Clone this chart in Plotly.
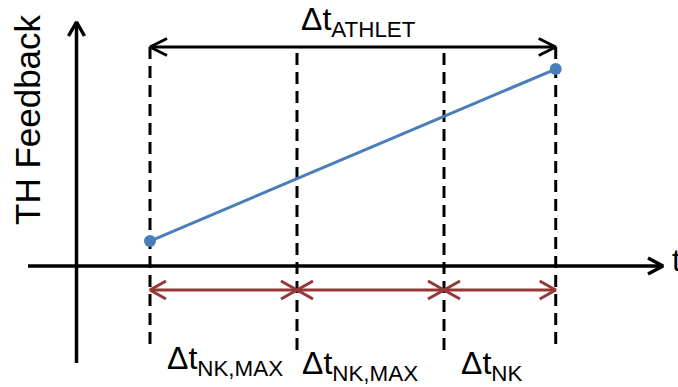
import plotly.graph_objects as go

# Boundaries of the coupling intervals on the time axis
t_bounds = [0.5, 1.5, 2.5, 3.26]
# TH feedback at the start and end of the ATHLET step
fb_time = [0.5, 3.26]
fb_value = [0.17, 1.34]
# Labels
interval_labels = ["Δt<sub>NK,MAX</sub>", "Δt<sub>NK,MAX</sub>", "Δt<sub>NK</sub>"]
span_label = "Δt<sub>ATHLET</sub>"
y_title = "TH Feedback"
x_title = "t"

# Canvas geometry
W, H = 678, 387
PX = 147.0             # pixels per data unit (both axes)
X0, Y0 = 76.5, 266.0   # pixel position of the origin


def fx(px):
    return (px - X0) / PX


def fy(py):
    return (Y0 - py) / PX


FONT = "Arial, Liberation Sans, sans-serif"
BLACK = "#000000"
RED = "#953735"
BLUE = "#4A7EBB"


def chevron(tx, ty, ux, uy, back_px, half_px):
    """Open arrow head with its tip at (tx, ty) pointing along (ux, uy)."""
    bx, by = -ux * back_px / PX, -uy * back_px / PX
    nx, ny = -uy * half_px / PX, ux * half_px / PX
    return ([tx + bx + nx, tx, tx + bx - nx, None],
            [ty + by + ny, ty, ty + by - ny, None])


fig = go.Figure()

# Coordinate axes with arrow heads
ax_x = [fx(28), fx(663), None, 0, 0, None]
ax_y = [0, 0, None, fy(363), fy(22), None]
hx, hy = chevron(fx(663), 0, 1, 0, 15, 8)
ax_x += hx
ax_y += hy
hx, hy = chevron(0, fy(22), 0, 1, 14, 8)
ax_x += hx
ax_y += hy
fig.add_trace(go.Scatter(x=ax_x, y=ax_y, mode="lines",
                         line=dict(color=BLACK, width=3.5),
                         hoverinfo="skip"))

# Dashed interval boundaries
for i, t in enumerate(t_bounds):
    outer = i in (0, len(t_bounds) - 1)
    top = fy(47) if outer else fy(53)
    bot = fy(350) if outer else fy(355)
    fig.add_trace(go.Scatter(x=[t, t], y=[top, bot], mode="lines",
                             line=dict(color=BLACK, width=3, dash="12px,7px"),
                             hoverinfo="skip"))

# ATHLET time step: double arrow across the whole span
y_top = fy(47)
sx = [t_bounds[0], t_bounds[-1], None]
sy = [y_top, y_top, None]
for tip, d in ((t_bounds[0], -1), (t_bounds[-1], 1)):
    hx, hy = chevron(tip, y_top, d, 0, 17, 8.5)
    sx += hx
    sy += hy
fig.add_trace(go.Scatter(x=sx, y=sy, mode="lines",
                         line=dict(color=BLACK, width=3),
                         hoverinfo="skip"))

# Neutron kinetics sub-steps: double arrows between neighbouring boundaries
y_nk = fy(290)
rx, ry = [], []
for a, b in zip(t_bounds[:-1], t_bounds[1:]):
    rx += [a, b, None]
    ry += [y_nk, y_nk, None]
    for tip, d in ((a, -1), (b, 1)):
        hx, hy = chevron(tip, y_nk, d, 0, 16, 9)
        rx += hx
        ry += hy
fig.add_trace(go.Scatter(x=rx, y=ry, mode="lines",
                         line=dict(color=RED, width=3),
                         hoverinfo="skip"))

# TH feedback over the ATHLET step
fig.add_trace(go.Scatter(x=fb_time, y=fb_value, mode="lines+markers",
                         line=dict(color=BLUE, width=3),
                         marker=dict(color=BLUE, size=12),
                         hoverinfo="skip"))

annotations = [
    dict(x=fx(358), y=fy(21), text=span_label, font=dict(size=32)),
    dict(x=fx(27), y=fy(120), text=y_title, textangle=-90,
         font=dict(size=35)),
    dict(x=fx(670), y=fy(260), text=x_title, xanchor="left",
         font=dict(size=31)),
]
label_px = [(224.5, 360), (360, 365), (491, 365)]
for (lx, ly), txt in zip(label_px, interval_labels):
    annotations.append(dict(x=fx(lx), y=fy(ly), text=txt, font=dict(size=32)))

for a in annotations:
    a.setdefault("xanchor", "center")
    a.update(xref="x", yref="y", showarrow=False, yanchor="middle")
    a["font"].update(family=FONT, color=BLACK)

fig.update_layout(
    width=W, height=H,
    margin=dict(l=0, r=0, t=0, b=0),
    paper_bgcolor="white", plot_bgcolor="white",
    showlegend=False,
    xaxis=dict(range=[fx(0), fx(W)], visible=False, fixedrange=True),
    yaxis=dict(range=[fy(H), fy(0)], visible=False, fixedrange=True),
    annotations=annotations,
)

fig.write_html("out.html", config={"displayModeBar": False})
